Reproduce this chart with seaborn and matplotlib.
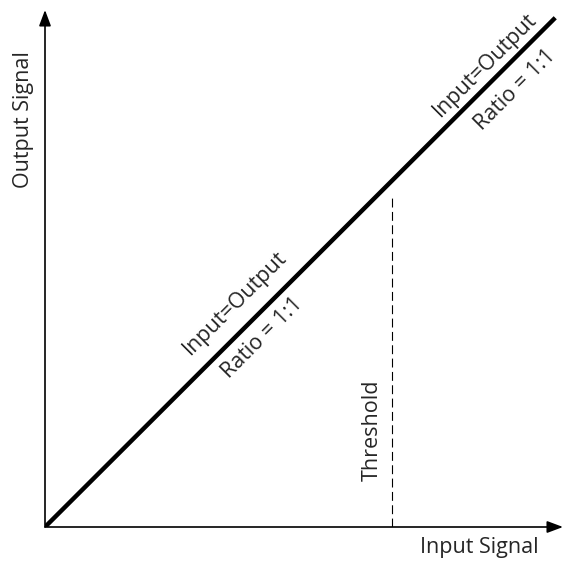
import matplotlib
matplotlib.use("Agg")
import matplotlib.pyplot as plt
import seaborn as sns
import pandas as pd

# transfer curve: input equals output (ratio 1:1)
signal_in = [0.0, 0.985]
signal_out = [0.0, 0.985]
threshold_x = 0.67
threshold_top = 0.642

ratio_labels = ["Input=Output", "Ratio = 1:1"]
x_label = "Input Signal"
y_label = "Output Signal"
threshold_label = "Threshold"

sns.set_theme(style="white")
plt.rcParams['font.family'] = ['Open Sans', 'DejaVu Sans']

fig = plt.figure(figsize=(5.66, 5.66), dpi=100)
ax = fig.add_axes([45 / 566, 39 / 566, 518 / 566, 517 / 566])
ax.set_xlim(0, 1)
ax.set_ylim(0, 1)
ax.axis('off')

df = pd.DataFrame({'inp': signal_in, 'out': signal_out})
sns.lineplot(data=df, x='inp', y='out', color='black', linewidth=3.2, ax=ax,
             solid_capstyle='butt')

# threshold marker
ax.plot([threshold_x, threshold_x], [0, threshold_top], color='black',
        linewidth=0.8, linestyle=(0, (8, 4)))

# axes with arrow heads
arrow = dict(arrowstyle='-|>,head_length=0.8,head_width=0.3', color='black',
             linewidth=1.2, shrinkA=0, shrinkB=0)
ax.annotate('', xy=(1.0, 0), xytext=(0, 0), arrowprops=arrow, annotation_clip=False)
ax.annotate('', xy=(0, 1.0), xytext=(0, 0), arrowprops=arrow, annotation_clip=False)

fs = 15.5
# labels along the line
ax.text(0.367, 0.433, ratio_labels[0], rotation=45, ha='center', va='center', fontsize=fs)
ax.text(0.419, 0.366, ratio_labels[1], rotation=45, ha='center', va='center', fontsize=fs)
ax.text(0.849, 0.894, ratio_labels[0], rotation=45, ha='center', va='center', fontsize=fs)
ax.text(0.907, 0.845, ratio_labels[1], rotation=45, ha='center', va='center', fontsize=fs)

ax.text(0.631, 0.188, threshold_label, rotation=90, ha='center', va='center', fontsize=fs)
ax.text(-0.042, 0.789, y_label, rotation=90, ha='center', va='center', fontsize=fs)
ax.text(0.838, -0.039, x_label, ha='center', va='center', fontsize=fs)

fig.savefig('out.png', dpi=100)
